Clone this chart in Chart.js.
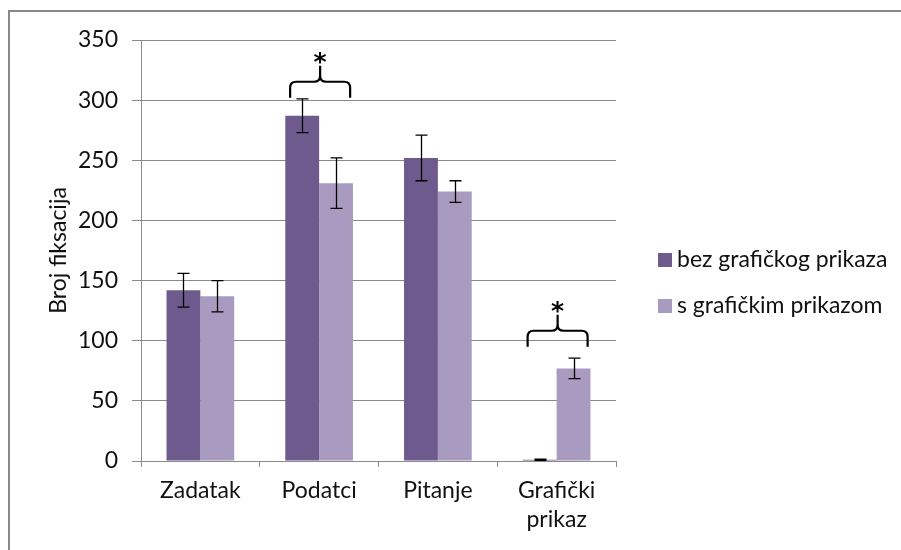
<!DOCTYPE html>
<html>
<head>
<meta charset="utf-8">
<script src="https://cdn.jsdelivr.net/npm/chart.js@4/dist/chart.umd.min.js"></script>
<style>
  html, body { margin: 0; padding: 0; background: #fff; }
  #wrap { width: 901px; height: 550px; position: relative; }
</style>
</head>
<body>
<div id="wrap"><canvas id="c" width="901" height="550"></canvas></div>
<script>
// ---- data ----
const categories = ['Zadatak', 'Podatci', 'Pitanje', ['Grafički', 'prikaz']];
const seriesNames = ['bez grafičkog prikaza', 's grafičkim prikazom'];
const valuesWithout = [142, 287, 252, 1];
const valuesWith = [137, 231, 224, 77];
const errorsWithout = [14, 14, 19, 0.5];
const errorsWith = [13, 21, 9, 8.5];
const yTicks = [0, 50, 100, 150, 200, 250, 300, 350];
const yTitle = 'Broj fiksacija';
// significance marks: category index and level (value) where the brace ends sit
const sigCategories = [1, 3];
const sigLevels = [302, 95];
const sigLabel = '*';

const colors = ['#6f5a8e', '#a99bbf'];
const FONT = 'Lato, "Open Sans", sans-serif';
const textColor = '#111';
const gridColor = '#8a8a8a';

const errorBarPlugin = {
  id: 'errorBars',
  afterDatasetsDraw(chart) {
    const ctx = chart.ctx;
    const y = chart.scales.y;
    const errs = [errorsWithout, errorsWith];
    ctx.save();
    ctx.strokeStyle = '#000';
    ctx.lineWidth = 1.3;
    chart.data.datasets.forEach((ds, di) => {
      const meta = chart.getDatasetMeta(di);
      meta.data.forEach((bar, i) => {
        const v = ds.data[i], e = errs[di][i];
        const x = Math.round(bar.x) + 0.5;
        const yt = y.getPixelForValue(v + e), yb = y.getPixelForValue(v - e);
        ctx.beginPath();
        ctx.moveTo(x, yt); ctx.lineTo(x, yb);
        ctx.moveTo(x - 6, yt); ctx.lineTo(x + 6, yt);
        ctx.moveTo(x - 6, yb); ctx.lineTo(x + 6, yb);
        ctx.stroke();
      });
    });
    // significance braces
    const xs = chart.scales.x;
    ctx.lineWidth = 2.2;
    sigCategories.forEach((ci, k) => {
      const cx = xs.getPixelForValue(ci) + 1;
      const yb = y.getPixelForValue(sigLevels[k]);
      const w = 30, r = 6;
      const yf = yb - 16, yt = yb - 32;
      ctx.beginPath();
      ctx.moveTo(cx - w, yb);
      ctx.lineTo(cx - w, yf + r);
      ctx.quadraticCurveTo(cx - w, yf, cx - w + r, yf);
      ctx.lineTo(cx - r, yf);
      ctx.quadraticCurveTo(cx, yf, cx, yf - r);
      ctx.lineTo(cx, yt);
      ctx.moveTo(cx, yf - r);
      ctx.quadraticCurveTo(cx, yf, cx + r, yf);
      ctx.lineTo(cx + w - r, yf);
      ctx.quadraticCurveTo(cx + w, yf, cx + w, yf + r);
      ctx.lineTo(cx + w, yb);
      ctx.stroke();
      ctx.fillStyle = '#000';
      ctx.font = 'bold 25px "DejaVu Sans", sans-serif';
      ctx.textAlign = 'center';
      ctx.textBaseline = 'middle';
      ctx.fillText(sigLabel, cx, yt - 2);
    });
    ctx.restore();
  }
};

const framePlugin = {
  id: 'frame',
  beforeDraw(chart) {
    const ctx = chart.ctx;
    ctx.save();
    ctx.fillStyle = '#fff';
    ctx.fillRect(0, 0, chart.width, chart.height);
    ctx.strokeStyle = '#888';
    ctx.lineWidth = 2;
    ctx.beginPath();
    ctx.moveTo(9, 550); ctx.lineTo(9, 11); ctx.lineTo(901, 11);
    ctx.stroke();
    ctx.restore();
  },
  afterDraw(chart) {
    // legend
    const ctx = chart.ctx;
    ctx.save();
    ctx.font = '23px ' + FONT;
    ctx.textBaseline = 'middle';
    ctx.textAlign = 'left';
    const rows = [260, 306];
    seriesNames.forEach((name, i) => {
      ctx.fillStyle = colors[i];
      ctx.fillRect(658, rows[i] - 7, 14, 14);
      ctx.fillStyle = textColor;
      ctx.fillText(name, 677, rows[i]);
    });
    ctx.restore();
  }
};

new Chart(document.getElementById('c'), {
  type: 'bar',
  data: {
    labels: categories,
    datasets: [
      { label: seriesNames[0], data: valuesWithout, backgroundColor: colors[0], borderWidth: 0 },
      { label: seriesNames[1], data: valuesWith, backgroundColor: colors[1], borderWidth: 0 }
    ]
  },
  options: {
    responsive: false,
    animation: false,
    devicePixelRatio: 1,
    layout: { padding: { left: 0, top: 40, right: 285, bottom: 0 } },
    datasets: { bar: { categoryPercentage: 0.57, barPercentage: 1.0 } },
    plugins: { legend: { display: false }, tooltip: { enabled: false } },
    scales: {
      x: {
        grid: { offset: true, drawOnChartArea: false, color: gridColor, tickLength: 6, lineWidth: 1 },
        border: { color: gridColor, width: 1 },
        ticks: { color: textColor, font: { family: FONT, size: 23, lineHeight: 1.25 }, padding: 9, maxRotation: 0 },
        afterFit(s) { s.height = 89; }
      },
      y: {
        min: 0, max: 350,
        afterBuildTicks(s) { s.ticks = yTicks.map(v => ({ value: v })); },
        grid: { color: gridColor, tickLength: 9, lineWidth: 1 },
        border: { color: gridColor, width: 1 },
        ticks: { color: textColor, font: { family: FONT, size: 23 }, padding: 14 },
        title: { display: true, text: yTitle, color: textColor, font: { family: FONT, size: 23 }, padding: { top: 45, bottom: 0 } },
        afterFit(s) { s.width = 141; }
      }
    }
  },
  plugins: [errorBarPlugin, framePlugin]
});
</script>
</body>
</html>
